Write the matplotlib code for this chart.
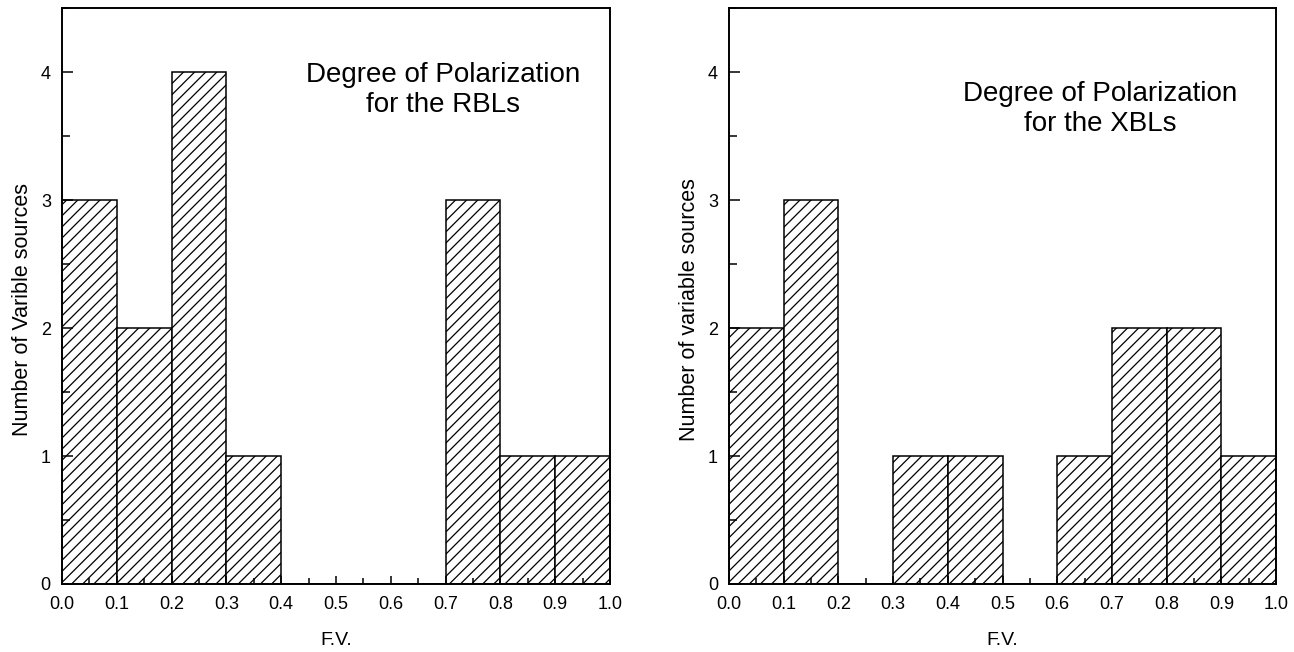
import numpy as np
import matplotlib.pyplot as plt
from matplotlib.ticker import MultipleLocator

plt.rcParams['font.family'] = ['Liberation Sans', 'DejaVu Sans']
plt.rcParams['hatch.linewidth'] = 0.9

# bin edges (F.V.) and counts
bin_left = [0.0, 0.1, 0.2, 0.3, 0.4, 0.5, 0.6, 0.7, 0.8, 0.9]
rbl_counts = [3, 2, 4, 1, 0, 0, 0, 3, 1, 1]
xbl_counts = [2, 3, 0, 1, 1, 0, 1, 2, 2, 1]

fig = plt.figure(figsize=(12.94, 6.52), dpi=100)
ax1 = fig.add_axes([0.0479, 0.1043, 0.4235, 0.8834])
ax2 = fig.add_axes([0.5634, 0.1043, 0.4227, 0.8834])

def draw(ax, counts, ylabel, title, tx, ty):
    ax.bar(bin_left, counts, width=0.1, align='edge', color='white',
           edgecolor='black', hatch='///', linewidth=1.1)
    ax.set_xlim(0, 1.0)
    ax.set_ylim(0, 4.5)
    ax.xaxis.set_major_locator(MultipleLocator(0.1))
    ax.xaxis.set_minor_locator(MultipleLocator(0.05))
    ax.yaxis.set_major_locator(MultipleLocator(1))
    ax.yaxis.set_minor_locator(MultipleLocator(0.5))
    ax.xaxis.set_major_formatter(plt.FormatStrFormatter('%.1f'))
    ax.tick_params(which='both', direction='in', top=False, right=False,
                   labelsize=13)
    ax.tick_params(axis='x', which='major', length=6, width=1.1, pad=9)
    ax.tick_params(axis='x', which='minor', length=4, width=1.1)
    ax.tick_params(axis='y', which='major', length=8, width=1.1, pad=8)
    ax.tick_params(axis='y', which='minor', length=6, width=1.1)
    for s in ax.spines.values():
        s.set_linewidth(1.4)
    ax.set_xlabel('F.V.', fontsize=14, labelpad=13)
    ax.set_ylabel(ylabel, fontsize=15.5)
    ax.yaxis.set_label_coords(-0.053, 0.476)
    ax.text(tx, ty, title, transform=ax.transAxes, fontsize=20,
            ha='center', va='center', linespacing=1.2)

draw(ax1, rbl_counts, 'Number of Varible sources',
     'Degree of Polarization\nfor the RBLs', 0.696, 0.8585)
draw(ax2, xbl_counts, 'Number of variable sources',
     'Degree of Polarization\nfor the XBLs', 0.678, 0.824)

fig.savefig('out.png', dpi=100)
